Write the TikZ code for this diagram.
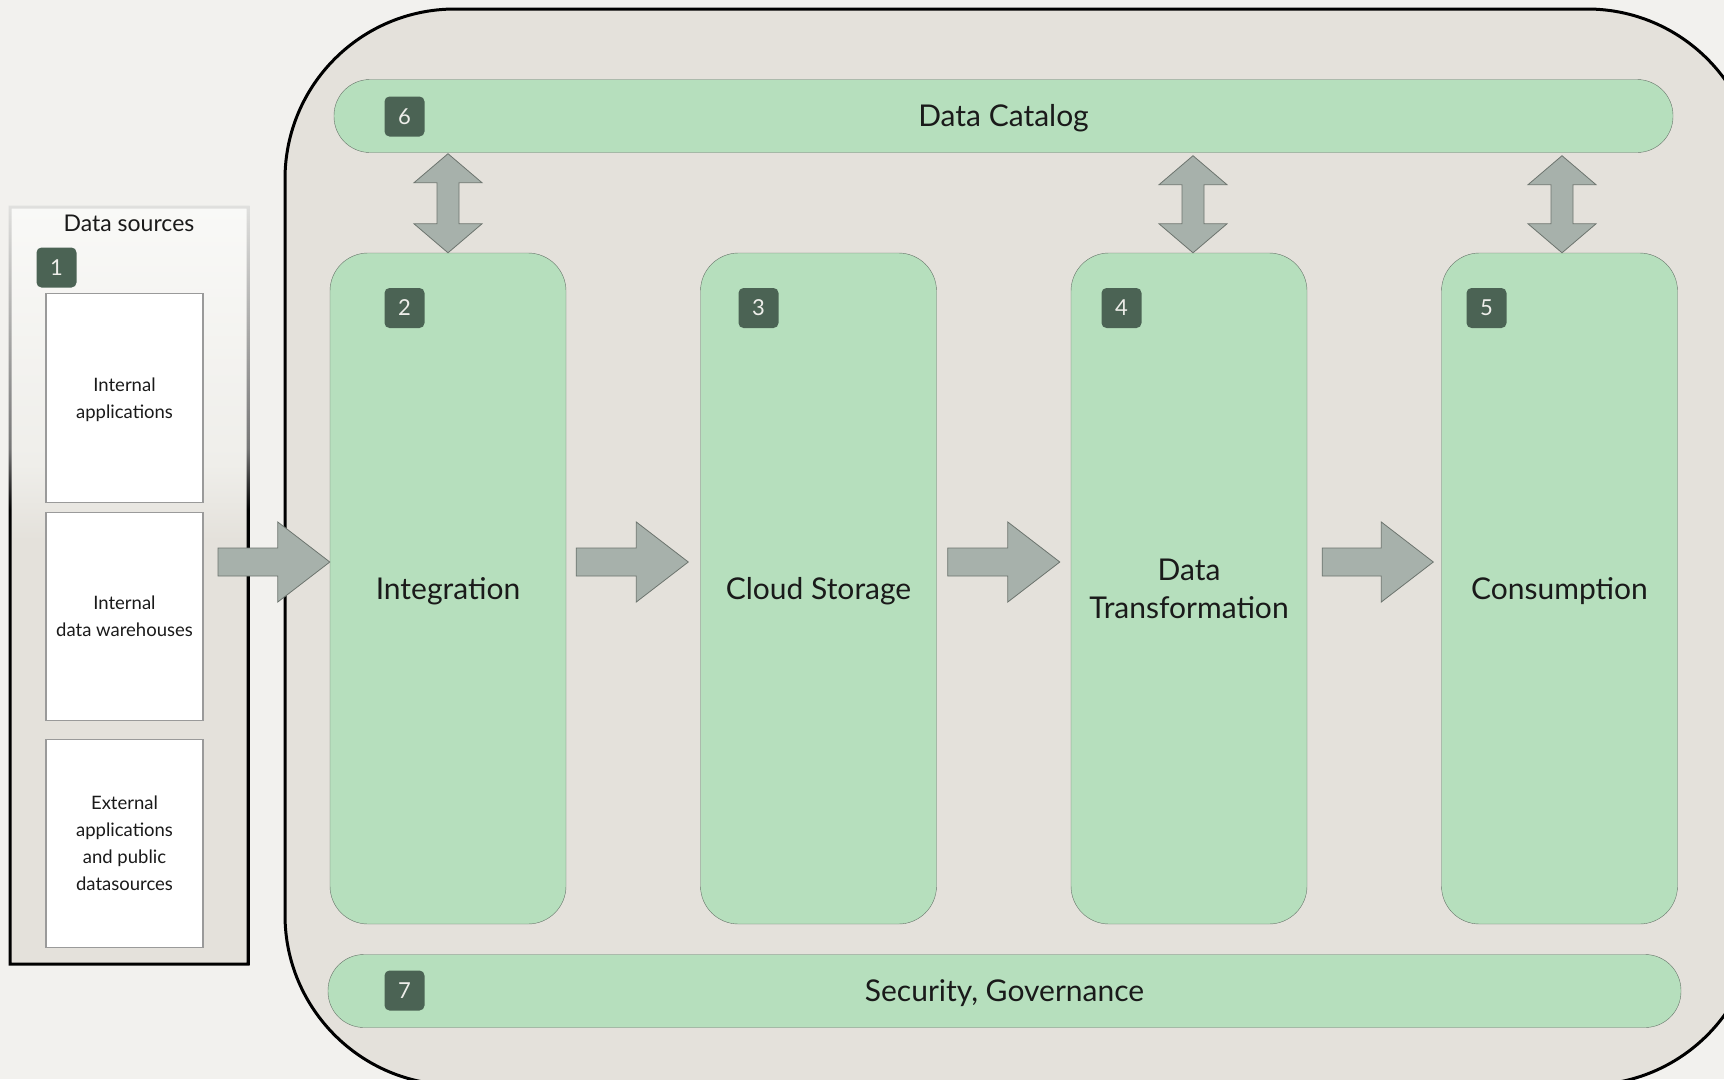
\documentclass[tikz,border=0pt]{standalone}
\usepackage{fontspec}
\setmainfont{Lato}
\usetikzlibrary{calc}

\definecolor{paper}{HTML}{F2F1EE}
\definecolor{plate}{HTML}{E4E1DB}
\definecolor{greenfill}{HTML}{B6DFBD}
\definecolor{greenline}{HTML}{67756A}
\definecolor{badgecol}{HTML}{4B6354}
\definecolor{badgetext}{HTML}{EEEEEA}
\definecolor{arrowfill}{HTML}{A7B1AB}
\definecolor{arrowline}{HTML}{6C746E}
\definecolor{inktext}{HTML}{1A1A1A}
\definecolor{sourceline}{HTML}{9A9A9A}
\definecolor{fadetop}{HTML}{F9F9F7}
\definecolor{fademid}{HTML}{EFEEEA}
\definecolor{framemid}{HTML}{767676}
\definecolor{frametop}{HTML}{E0E0DE}

% Fill and frame of the data sources panel
\pgfdeclareverticalshading{panelfade}{100bp}{color(0bp)=(plate); color(25bp)=(plate);
  color(53bp)=(plate); color(58bp)=(fademid); color(75bp)=(fadetop); color(100bp)=(fadetop)}
\pgfdeclareverticalshading{framefade}{100bp}{color(0bp)=(black); color(25bp)=(black);
  color(55bp)=(black); color(59bp)=(framemid); color(75bp)=(frametop); color(100bp)=(frametop)}

\tikzset{
  stage/.style={draw=greenline, fill=greenfill, rounded corners=38pt, minimum width=236pt,
    minimum height=671pt, inner sep=0pt, align=center, text=inktext,
    font=\fontsize{30}{38}\selectfont, text height=21.5pt, text depth=0pt},
  band/.style={draw=greenline, fill=greenfill, rounded corners=36pt, minimum height=73pt,
    inner sep=0pt, text=inktext, font=\fontsize{30}{38}\selectfont,
    text height=21.5pt, text depth=0pt},
  badge/.style={fill=badgecol, text=badgetext, rounded corners=5pt, minimum size=40pt,
    inner sep=0pt, font=\fontsize{22}{22}\selectfont, text height=15.8pt, text depth=0pt},
  source/.style={draw=sourceline, fill=white, line width=1.2pt, minimum width=157pt,
    inner sep=0pt, align=center, text=inktext, font=\fontsize{18.5}{27}\selectfont,
    text depth=0pt},
  blockarrow/.style={draw=arrowline, fill=arrowfill, line width=0.8pt, line join=miter},
}

% Horizontal block arrow: #1 tail, #2 tip
\newcommand{\flowarrow}[2]{%
  \draw[blockarrow] ($(#1)+(0,-14)$) -- ($(#2)+(-52,-14)$) -- ($(#2)+(-52,-40)$) -- (#2)
    -- ($(#2)+(-52,40)$) -- ($(#2)+(-52,14)$) -- ($(#1)+(0,14)$) -- cycle;}
% Vertical double block arrow: #1 upper tip, #2 lower tip
\newcommand{\syncarrow}[2]{%
  \draw[blockarrow] (#1) -- ($(#1)+(34,29)$) -- ($(#1)+(11,29)$) -- ($(#2)+(11,-29)$)
    -- ($(#2)+(34,-29)$) -- (#2) -- ($(#2)+(-34,-29)$) -- ($(#2)+(-11,-29)$)
    -- ($(#1)+(-11,29)$) -- ($(#1)+(-34,29)$) -- cycle;}

\begin{document}
\begin{tikzpicture}[x=1pt, y=-1pt]
  % The page
  \useasboundingbox (0,0) rectangle (1724,1079);
  \fill[paper] (0,0) rectangle (1724,1079);
  \clip (0,0) rectangle (1724,1079);

  % The platform, running off the page at the right and the bottom
  \draw[line width=3pt, fill=plate, rounded corners=170pt] (285,9) rectangle (1757,1085);

  % The data sources panel
  \shade[shading=panelfade] (10,207) rectangle (248,964);
  \shade[shading=framefade, even odd rule] (8.5,205.5) rectangle (249.5,965.5)
    (11.5,208.5) rectangle (246.5,962.5);
  \node[text=inktext, font=\fontsize{23}{28}\selectfont, text height=16.5pt, text depth=0pt]
    (srctitle) at (129,223.5) {Data sources};
  \node[badge] (b1) at (56.5,267.5) {1};

  % The sources
  \node[source, minimum height=209pt, text height=40.3pt] (intapps) at (124.5,398)
    {Internal\\applications};
  \node[source, minimum height=208pt, text height=40.3pt] (intdwh) at (124.5,616.5)
    {Internal\\data warehouses};
  \node[source, minimum height=208pt, text height=94.3pt] (extsrc) at (124.5,843.5)
    {External\\applications\\and public\\datasources};

  % The stages
  \node[stage] (integration) at (448,588.5) {Integration};
  \node[stage] (storage) at (818.5,588.5) {Cloud Storage};
  \node[stage, text height=59.5pt] (transform) at (1189,588.5) {Data\\Transformation};
  \node[stage] (consume) at (1559.5,588.5) {Consumption};

  % The catalog and the governance bands
  \node[band, minimum width=1339pt] (catalog) at (1003.5,116) {Data Catalog};
  \node[band, minimum width=1353pt] (security) at (1004.5,991) {Security, Governance};

  % Badges
  \node[badge] (b6) at (404.5,116.5) {6};
  \node[badge] (b2) at (404.5,308) {2};
  \node[badge] (b3) at (758.5,308) {3};
  \node[badge] (b4) at (1121.5,308) {4};
  \node[badge] (b5) at (1486.5,308) {5};
  \node[badge] (b7) at (404.5,990.5) {7};

  % Ends of the flow arrows
  \coordinate (f1s) at (218,562);
  \coordinate (f1e) at (integration.west |- f1s);
  \coordinate (f2s) at ($(integration.east |- f1s)+(10,0)$);
  \coordinate (f2e) at ($(storage.west |- f1s)+(-12,0)$);
  \coordinate (f3s) at ($(storage.east |- f1s)+(11,0)$);
  \coordinate (f3e) at ($(transform.west |- f1s)+(-11,0)$);
  \coordinate (f4s) at ($(transform.east |- f1s)+(15,0)$);
  \coordinate (f4e) at ($(consume.west |- f1s)+(-8,0)$);

  % Flow arrows
  \flowarrow{f1s}{f1e}
  \flowarrow{f2s}{f2e}
  \flowarrow{f3s}{f3e}
  \flowarrow{f4s}{f4e}

  % Ends of the catalog arrows
  \coordinate (c2t) at ($(integration.north |- catalog.south)+(0,1)$);
  \coordinate (c4t) at ($(transform.north |- catalog.south)+(4,3)$);
  \coordinate (c4b) at ($(transform.north)+(4,0)$);
  \coordinate (c5t) at ($(consume.north |- catalog.south)+(2.5,3)$);
  \coordinate (c5b) at ($(consume.north)+(2.5,0)$);

  % Catalog arrows
  \syncarrow{c2t}{integration.north}
  \syncarrow{c4t}{c4b}
  \syncarrow{c5t}{c5b}
\end{tikzpicture}
\end{document}
